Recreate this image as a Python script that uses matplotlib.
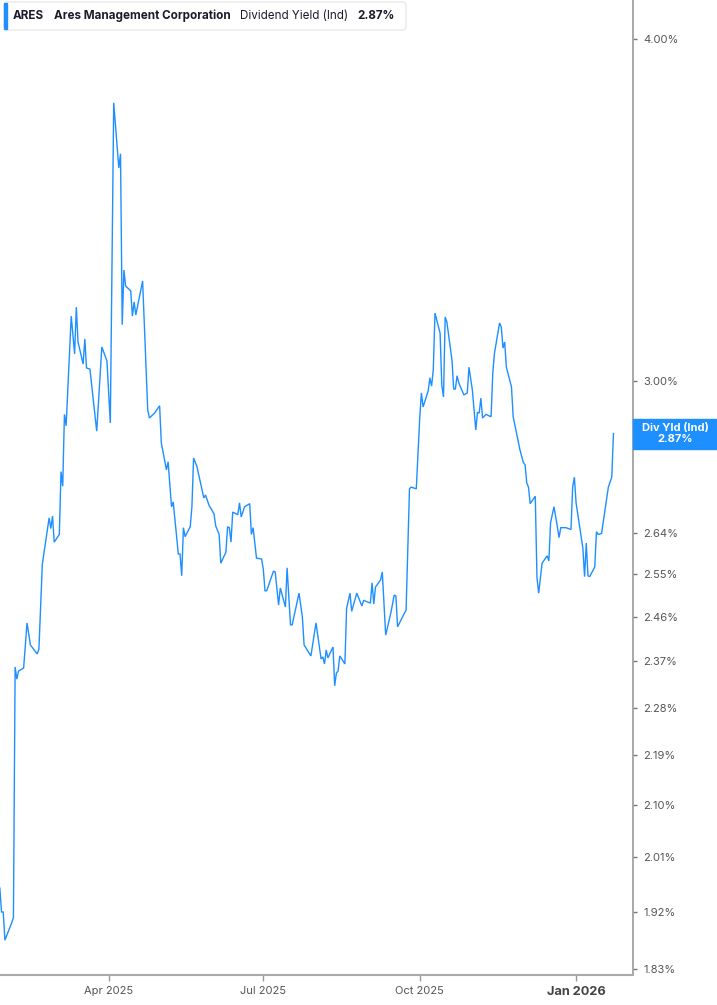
import matplotlib
matplotlib.use("Agg")
import matplotlib.pyplot as plt
from matplotlib.ticker import FixedLocator, NullLocator
from matplotlib.patches import FancyBboxPatch, Rectangle
import matplotlib.dates as mdates
import pandas as pd

plt.rcParams['font.family'] = ['Inter', 'DejaVu Sans']

# header texts
ticker = "ARES"
company = "Ares Management Corporation"
metric = "Dividend Yield (Ind)"
last_text = "2.87%"
badge_title = "Div Yld (Ind)"

# dividend yield (%)
dates = [
    "2025-01-27", "2025-01-28", "2025-01-29", "2025-01-30", "2025-02-03", "2025-02-04", "2025-02-05",
    "2025-02-06", "2025-02-07", "2025-02-10", "2025-02-12", "2025-02-14", "2025-02-18", "2025-02-19",
    "2025-02-21", "2025-02-25", "2025-02-26", "2025-02-27", "2025-02-28",
    "2025-03-03", "2025-03-04", "2025-03-05", "2025-03-06", "2025-03-07", "2025-03-10", "2025-03-12",
    "2025-03-13", "2025-03-14", "2025-03-17", "2025-03-18", "2025-03-19", "2025-03-21", "2025-03-25",
    "2025-03-28", "2025-03-31",
    "2025-04-02", "2025-04-04", "2025-04-07", "2025-04-08", "2025-04-09", "2025-04-10", "2025-04-11",
    "2025-04-14", "2025-04-15", "2025-04-16", "2025-04-17", "2025-04-21", "2025-04-24", "2025-04-25",
    "2025-04-28",
    "2025-05-01", "2025-05-02", "2025-05-05", "2025-05-06", "2025-05-08", "2025-05-09", "2025-05-12",
    "2025-05-13", "2025-05-14", "2025-05-15", "2025-05-16", "2025-05-19", "2025-05-20", "2025-05-21",
    "2025-05-23", "2025-05-27", "2025-05-28", "2025-05-30",
    "2025-06-02", "2025-06-03", "2025-06-05", "2025-06-06", "2025-06-09", "2025-06-10", "2025-06-11",
    "2025-06-12", "2025-06-13", "2025-06-16", "2025-06-17", "2025-06-18", "2025-06-20", "2025-06-23",
    "2025-06-24", "2025-06-25", "2025-06-27", "2025-06-30",
    "2025-07-01", "2025-07-02", "2025-07-03", "2025-07-07", "2025-07-08", "2025-07-10", "2025-07-11",
    "2025-07-14", "2025-07-15", "2025-07-17", "2025-07-18", "2025-07-22", "2025-07-24", "2025-07-25",
    "2025-07-29",
    "2025-08-01", "2025-08-04", "2025-08-05", "2025-08-06", "2025-08-07", "2025-08-08", "2025-08-11",
    "2025-08-12", "2025-08-13", "2025-08-14", "2025-08-15", "2025-08-18", "2025-08-19", "2025-08-21",
    "2025-08-22", "2025-08-25", "2025-08-28", "2025-08-29",
    "2025-09-02", "2025-09-03", "2025-09-04", "2025-09-05", "2025-09-08", "2025-09-09", "2025-09-11",
    "2025-09-14", "2025-09-16", "2025-09-17", "2025-09-18", "2025-09-22", "2025-09-23", "2025-09-25",
    "2025-09-26", "2025-09-29",
    "2025-10-01", "2025-10-02", "2025-10-03", "2025-10-06", "2025-10-07", "2025-10-08", "2025-10-09",
    "2025-10-10", "2025-10-13", "2025-10-14", "2025-10-15", "2025-10-16", "2025-10-17", "2025-10-20",
    "2025-10-21", "2025-10-22", "2025-10-23", "2025-10-24", "2025-10-27", "2025-10-29", "2025-10-30",
    "2025-11-01", "2025-11-03", "2025-11-04", "2025-11-05", "2025-11-06", "2025-11-07", "2025-11-09",
    "2025-11-12", "2025-11-13", "2025-11-14", "2025-11-17", "2025-11-18", "2025-11-19", "2025-11-20",
    "2025-11-21", "2025-11-24", "2025-11-25", "2025-11-27", "2025-11-29",
    "2025-12-01", "2025-12-02", "2025-12-03", "2025-12-04", "2025-12-05", "2025-12-08", "2025-12-09",
    "2025-12-10", "2025-12-12", "2025-12-15", "2025-12-16", "2025-12-17", "2025-12-19", "2025-12-21",
    "2025-12-22", "2025-12-23", "2025-12-26", "2025-12-29", "2025-12-30", "2025-12-31",
    "2026-01-01", "2026-01-05", "2026-01-06", "2026-01-07", "2026-01-08", "2026-01-09", "2026-01-12",
    "2026-01-13", "2026-01-14", "2026-01-16", "2026-01-20", "2026-01-22", "2026-01-23",
]
yields = [
    1.959, 1.920, 1.920, 1.875, 1.903, 1.911, 2.359,
    2.335, 2.351, 2.357, 2.448, 2.403, 2.385, 2.395,
    2.572, 2.674, 2.650, 2.678, 2.620,
    2.637, 2.780, 2.746, 2.917, 2.889, 3.168, 3.069,
    3.192, 3.100, 3.043, 3.108, 3.033, 3.030, 2.876,
    3.087, 3.051,
    2.896, 3.790, 3.588, 3.631, 3.145, 3.293, 3.249,
    3.236, 3.168, 3.206, 3.171, 3.263, 2.928, 2.908,
    2.920,
    2.938, 2.848, 2.784, 2.803, 2.699, 2.710, 2.594,
    2.594, 2.547, 2.652, 2.632, 2.654, 2.699, 2.812,
    2.791, 2.719, 2.726, 2.703,
    2.683, 2.656, 2.637, 2.574, 2.598, 2.654, 2.652,
    2.620, 2.687, 2.681, 2.708, 2.676, 2.699, 2.706,
    2.637, 2.652, 2.585, 2.583,
    2.561, 2.515, 2.515, 2.557, 2.555, 2.485, 2.521,
    2.481, 2.564, 2.444, 2.444, 2.510, 2.460, 2.403,
    2.381,
    2.448, 2.375, 2.379, 2.365, 2.393, 2.377, 2.399,
    2.322, 2.347, 2.351, 2.381, 2.365, 2.478, 2.510,
    2.472, 2.510, 2.483, 2.495,
    2.489, 2.532, 2.487, 2.523, 2.538, 2.555, 2.423,
    2.468, 2.506, 2.504, 2.440, 2.468, 2.474, 2.740,
    2.744, 2.740,
    2.906, 2.970, 2.935, 2.975, 3.008, 2.987, 3.028,
    3.176, 3.123, 2.990, 2.960, 3.166, 3.152, 3.053,
    2.980, 2.980, 3.013, 2.995, 2.965, 2.970, 3.035,
    2.977, 2.879, 2.922, 2.920, 2.957, 2.908, 2.917,
    2.911, 3.020, 3.071, 3.150, 3.139, 3.084, 3.100,
    3.035, 2.985, 2.911, 2.871, 2.831,
    2.801, 2.796, 2.753, 2.744, 2.706, 2.723, 2.543,
    2.510, 2.574, 2.590, 2.579, 2.663, 2.699, 2.654,
    2.630, 2.652, 2.652, 2.648, 2.744, 2.767,
    2.708, 2.607, 2.545, 2.618, 2.547, 2.545, 2.566,
    2.643, 2.637, 2.639, 2.744, 2.767, 2.870,
]

y_ticks = [1.83, 1.92, 2.01, 2.10, 2.19, 2.28, 2.37, 2.46, 2.55, 2.64, 3.00, 4.00]
x_ticks = ["2025-04-01", "2025-07-01", "2025-10-01", "2026-01-01"]
x_tick_labels = ["Apr 2025", "Jul 2025", "Oct 2025", "Jan 2026"]

W, H = 717, 1005
blue = "#1E8FFF"
fig = plt.figure(figsize=(W / 100, H / 100), dpi=100)
ax = fig.add_axes([0, 30 / H, 632.5 / W, 975 / H])

x = pd.to_datetime(dates)
ax.plot(x, yields, color=blue, lw=1.0, solid_joinstyle="miter")

ax.set_yscale("log")
ax.set_ylim(1.821, 4.132)
apr = pd.Timestamp("2025-04-01")
ax.set_xlim(apr - pd.Timedelta(days=63.9), apr + pd.Timedelta(days=308.2))

ax.yaxis.tick_right()
ax.yaxis.set_major_locator(FixedLocator(y_ticks))
ax.yaxis.set_minor_locator(NullLocator())
ax.set_yticklabels([f"{v:.2f}%" for v in y_ticks])
ax.tick_params(axis="y", direction="out", length=3, width=1, color="#777",
               pad=5, labelsize=8, labelcolor="#555")

ax.set_xticks(pd.to_datetime(x_ticks))
ax.set_xticklabels(x_tick_labels)
ax.tick_params(axis="x", direction="out", length=4, width=1, color="#999",
               pad=4, labelsize=8, labelcolor="#555")
jan = ax.get_xticklabels()[-1]
jan.set_fontweight("bold")
jan.set_fontsize(9.2)
jan.set_color("#444")

for s in ["left", "top"]:
    ax.spines[s].set_visible(False)
ax.spines["right"].set_color("#999")
ax.spines["right"].set_linewidth(1.2)
ax.spines["bottom"].set_color("#aaa")
ax.spines["bottom"].set_linewidth(1.5)

# last value badge on the right axis
fig.canvas.draw()
y_disp = ax.transData.transform((mdates.date2num(x[-1]), yields[-1]))[1]
x0 = 633
fig.patches.append(Rectangle((x0 / W, (y_disp - 15) / H), (W - x0) / W, 30 / H,
                             transform=fig.transFigure, color=blue, zorder=5))
fig.text((x0 + W) / 2 / W, (y_disp + 5.5) / H, badge_title, color="white",
         fontsize=8, fontweight="bold", ha="center", va="center", zorder=6)
fig.text((x0 + W) / 2 / W, (y_disp - 5.5) / H, last_text, color="white",
         fontsize=8, fontweight="bold", ha="center", va="center", zorder=6)

# header box
fig.patches.append(FancyBboxPatch((4 / W, 1 - 30 / H), 402 / W, 28 / H,
                                  boxstyle="round,pad=0,rounding_size=0.004",
                                  transform=fig.transFigure, facecolor="white",
                                  edgecolor="#e3e3e3", lw=0.8, zorder=4))
fig.patches.append(Rectangle((4 / W, 1 - 29 / H), 2.5 / W, 26 / H,
                             transform=fig.transFigure, color=blue, zorder=5))
ty = 1 - 16 / H
hdr = dict(fontsize=8.4, color="#1b1b2b", va="center", zorder=7)
fig.text(13 / W, ty, ticker, fontweight="bold", **hdr)
fig.text(54 / W, ty, company, fontweight="bold", **hdr)
fig.text(240.5 / W, ty, metric, **hdr)
fig.text(357 / W, ty, last_text, fontweight="bold", **hdr)

fig.savefig("out.png", dpi=100)
